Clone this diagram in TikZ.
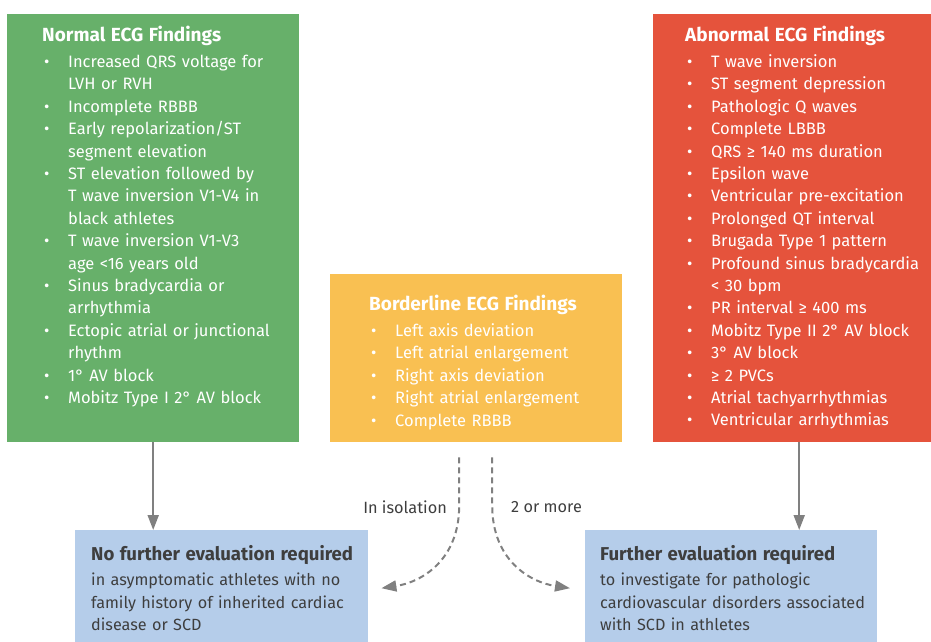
\documentclass[tikz,border=0pt]{standalone}
\usepackage{fontspec}
\setmainfont{Fira Sans}
\usetikzlibrary{arrows.meta,calc}

\definecolor{normalgreen}{RGB}{103,176,106}
\definecolor{abnormred}{RGB}{229,83,60}
\definecolor{borderyellow}{RGB}{249,192,82}
\definecolor{evalblue}{RGB}{181,205,234}
\definecolor{arrowgray}{RGB}{128,128,128}
\definecolor{textgray}{RGB}{62,62,62}

\newcommand{\finding}[1]{\par\hangindent=26pt\hangafter=1\noindent\makebox[26pt][l]{\hspace{2pt}\textbullet}#1}
\newcommand{\boxhead}[1]{{\fontsize{19}{22}\selectfont\bfseries #1\par}\vspace{3.5pt}}

\tikzset{
  panel/.style={minimum width=292pt, inner sep=0pt, anchor=north west},
  findings/.style={anchor=north west, inner sep=0pt, text width=270pt, align=left,
    text=white, font=\fontsize{16.5}{22.4}\selectfont},
  outcome/.style={findings, text=textgray, font=\fontsize{16.2}{22.4}\selectfont},
  flow/.style={draw=arrowgray, line width=2pt, -{Triangle[width=11pt,length=15pt]}},
  maybe/.style={flow, dash pattern=on 6pt off 4pt},
  branch/.style={text=textgray, font=\fontsize{16.3}{18}\selectfont, inner sep=0pt}
}

\begin{document}
\begin{tikzpicture}[x=1pt,y=-1pt]
\useasboundingbox (0,0) rectangle (931,642);
\clip (0,0) rectangle (931,642);

% finding boxes
\node[panel, fill=normalgreen, minimum height=428pt] (normal) at (7,14) {};
\node[panel, fill=borderyellow, minimum height=168pt] (border) at (330,274) {};
\node[panel, fill=abnormred, minimum height=428pt] (abnormal) at (653,14) {};

% outcome boxes
\node[panel, fill=evalblue, minimum width=293pt, minimum height=125pt] (noeval) at (75,530) {};
\node[panel, fill=evalblue, minimum height=125pt] (furthereval) at (585,530) {};

\node[findings] (normaltext) at ($(normal.north west)+(35,12)$) {%
\boxhead{Normal ECG Findings}
\finding{Increased QRS voltage for\newline LVH or RVH}
\finding{Incomplete RBBB}
\finding{Early repolarization/ST\newline segment elevation}
\finding{ST elevation followed by\newline T wave inversion V1-V4 in\newline black athletes}
\finding{T wave inversion V1-V3\newline age <16 years old}
\finding{Sinus bradycardia or\newline arrhythmia}
\finding{Ectopic atrial or junctional\newline rhythm}
\finding{1\textdegree\ AV block}
\finding{Mobitz Type I 2\textdegree\ AV block}};

\node[findings] (bordertext) at ($(border.north west)+(39,21)$) {%
\boxhead{Borderline ECG Findings}
\finding{Left axis deviation}
\finding{Left atrial enlargement}
\finding{Right axis deviation}
\finding{Right atrial enlargement}
\finding{Complete RBBB}};

\node[findings] (abnormaltext) at ($(abnormal.north west)+(32,12)$) {%
\boxhead{Abnormal ECG Findings}
\finding{T wave inversion}
\finding{ST segment depression}
\finding{Pathologic Q waves}
\finding{Complete LBBB}
\finding{QRS ≥ 140 ms duration}
\finding{Epsilon wave}
\finding{Ventricular pre-excitation}
\finding{Prolonged QT interval}
\finding{Brugada Type 1 pattern}
\finding{Profound sinus bradycardia\newline < 30 bpm}
\finding{PR interval ≥ 400 ms}
\finding{Mobitz Type II 2\textdegree\ AV block}
\finding{3\textdegree\ AV block}
\finding{≥ 2 PVCs}
\finding{Atrial tachyarrhythmias}
\finding{Ventricular arrhythmias}};

\node[outcome] (noevaltext) at ($(noeval.north west)+(16,15)$) {%
{\fontsize{18.6}{22}\selectfont\bfseries No further evaluation required\par}\vspace{3pt}
in asymptomatic athletes with no\\family history of inherited cardiac\\disease or SCD};

\node[outcome] (furtherevaltext) at ($(furthereval.north west)+(15,15)$) {%
{\fontsize{18.6}{22}\selectfont\bfseries Further evaluation required\par}\vspace{3pt}
to investigate for pathologic\\cardiovascular disorders associated\\with SCD in athletes};

% connectors
\draw[flow] (normal.south) -- (normal.south |- noeval.north);
\draw[flow] (abnormal.south) -- (abnormal.south |- furthereval.north);

\coordinate (isotop) at ($(border.south)+(-17,15)$);
\coordinate (isoend) at ($(noeval.east)+(13,-4.5)$);
\coordinate (moretop) at ($(border.south)+(16,15)$);
\coordinate (moreend) at ($(furthereval.west)+(-15,-4.5)$);

\draw[maybe] (isotop) -- ++(0,48) .. controls +(0,55) and +(40,-6) .. (isoend);
\draw[maybe] (moretop) -- ++(0,48) .. controls +(0,55) and +(-40,-6) .. (moreend);

\node[branch, anchor=east] (isolabel) at (447,507) {In isolation};
\node[branch, anchor=west] (morelabel) at (511,507) {2 or more};
\end{tikzpicture}
\end{document}
